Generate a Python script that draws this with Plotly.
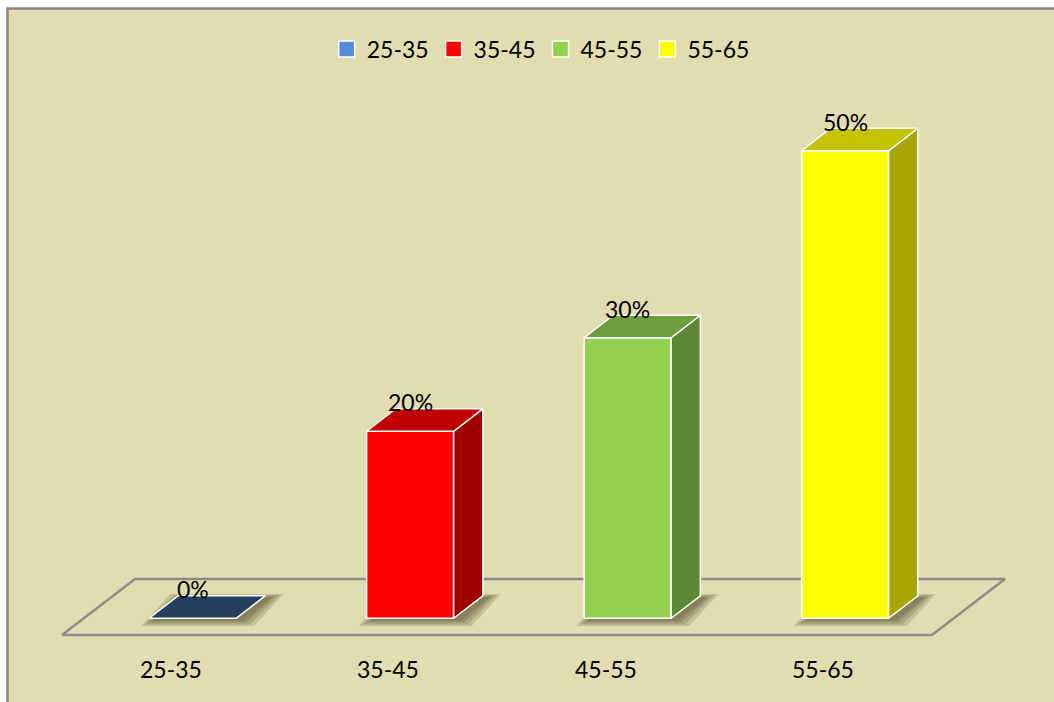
import plotly.graph_objects as go

# data
categories = ['25-35', '35-45', '45-55', '55-65']
values = [0, 20, 30, 50]
labels = ['0%', '20%', '30%', '50%']

front_colors = ['#558ED5', '#FF0000', '#92D050', '#FFFF00']
top_colors = ['#243F60', '#C00000', '#6E9E3E', '#C5C200']
side_colors = ['#1E3550', '#9E0000', '#5D8833', '#A7A500']

BG = '#E2DDB1'
FONT = 'Lato'

# 3D geometry in axis units (x: category slot, y: percent)
FLOOR_FRONT = -1.82
FLOOR_DX, FLOOR_DY = 0.3356, 6.0
BAR_W = 0.4
FRONT_T, BACK_T = 0.3, 0.7   # bar front/back position along floor depth
PX_X, PX_Y = 217.5, 9.35     # pixels per axis unit

fig = go.Figure()


def poly(xs, ys, fill, line_color='rgba(0,0,0,0)', width=0):
    fig.add_trace(go.Scatter(
        x=xs + [xs[0]], y=ys + [ys[0]], mode='lines', fill='toself',
        fillcolor=fill, line=dict(color=line_color, width=width),
        hoverinfo='skip', showlegend=False
    ))


# soft shadows under the bars
for i, v in enumerate(values):
    fx = i - BAR_W / 2 + FRONT_T * FLOOR_DX
    fy = FLOOR_FRONT + FRONT_T * FLOOR_DY
    bdx = (BACK_T - FRONT_T) * FLOOR_DX
    bdy = (BACK_T - FRONT_T) * FLOOR_DY
    for grow in [13, 9, 5, 2]:
        gx, gy = grow / PX_X, grow / PX_Y
        ox, oy = 5 / PX_X, -2 / PX_Y
        xs = [fx - gx + ox, fx + BAR_W + gx + ox, fx + BAR_W + bdx + gx + ox, fx + bdx - gx + ox]
        ys = [fy - gy * 0.45 + oy, fy - gy * 0.45 + oy, fy + bdy + gy * 0.3 + oy, fy + bdy + gy * 0.3 + oy]
        poly(xs, ys, 'rgba(60,55,20,0.18)')

# floor
n = len(categories)
poly([-0.5, n - 0.5, n - 0.5 + FLOOR_DX, -0.5 + FLOOR_DX],
     [FLOOR_FRONT, FLOOR_FRONT, FLOOR_FRONT + FLOOR_DY, FLOOR_FRONT + FLOOR_DY],
     'rgba(0,0,0,0)', '#8C8C8C', 2.5)

# bars
for i, v in enumerate(values):
    fx = i - BAR_W / 2 + FRONT_T * FLOOR_DX
    fy = FLOOR_FRONT + FRONT_T * FLOOR_DY
    bdx = (BACK_T - FRONT_T) * FLOOR_DX
    bdy = (BACK_T - FRONT_T) * FLOOR_DY
    top = fy + v
    if v > 0:
        poly([fx, fx + BAR_W, fx + BAR_W, fx], [fy, fy, top, top], front_colors[i], 'white', 1.5)
        poly([fx + BAR_W, fx + BAR_W + bdx, fx + BAR_W + bdx, fx + BAR_W],
             [fy, fy + bdy, top + bdy, top], side_colors[i], 'white', 1.5)
    poly([fx, fx + BAR_W, fx + BAR_W + bdx, fx + bdx],
         [top, top, top + bdy, top + bdy], top_colors[i], 'white', 1.5)
    fig.add_annotation(x=fx + BAR_W / 2, y=top + 1.4, text=labels[i], showarrow=False,
                       yanchor='bottom', font=dict(size=23, color='black', family=FONT))
    fig.add_annotation(x=i, y=-5.45, text=categories[i], showarrow=False,
                       yanchor='middle', font=dict(size=23, color='black', family=FONT))

# legend entries
for i, c in enumerate(categories):
    fig.add_trace(go.Scatter(
        x=[None], y=[None], mode='markers', name=c,
        marker=dict(symbol='square', size=16, color=front_colors[i], line=dict(color='white', width=1.5))
    ))

fig.update_layout(
    width=1054, height=702,
    margin=dict(l=0, r=0, t=0, b=0),
    paper_bgcolor='white',
    plot_bgcolor='rgba(0,0,0,0)',
    xaxis=dict(range=[-0.785, 4.061], visible=False, fixedrange=True),
    yaxis=dict(range=[-8.98, 66.1], visible=False, fixedrange=True),
    showlegend=True,
    legend=dict(orientation='h', x=0.513, xanchor='center', y=0.93, yanchor='middle',
                bgcolor='rgba(0,0,0,0)', font=dict(size=23, color='black', family=FONT)),
    shapes=[dict(type='rect', xref='paper', yref='paper', x0=7.5 / 1054, x1=1.02,
                 y0=-0.02, y1=1 - 8.5 / 702, fillcolor=BG,
                 line=dict(color='#858585', width=2.5), layer='below')]
)

# drop the default page margin so the figure fills the window
fig.write_html('out.html', config={'displayModeBar': False},
               post_script="document.body.style.margin='0';document.body.style.overflow='hidden';")
